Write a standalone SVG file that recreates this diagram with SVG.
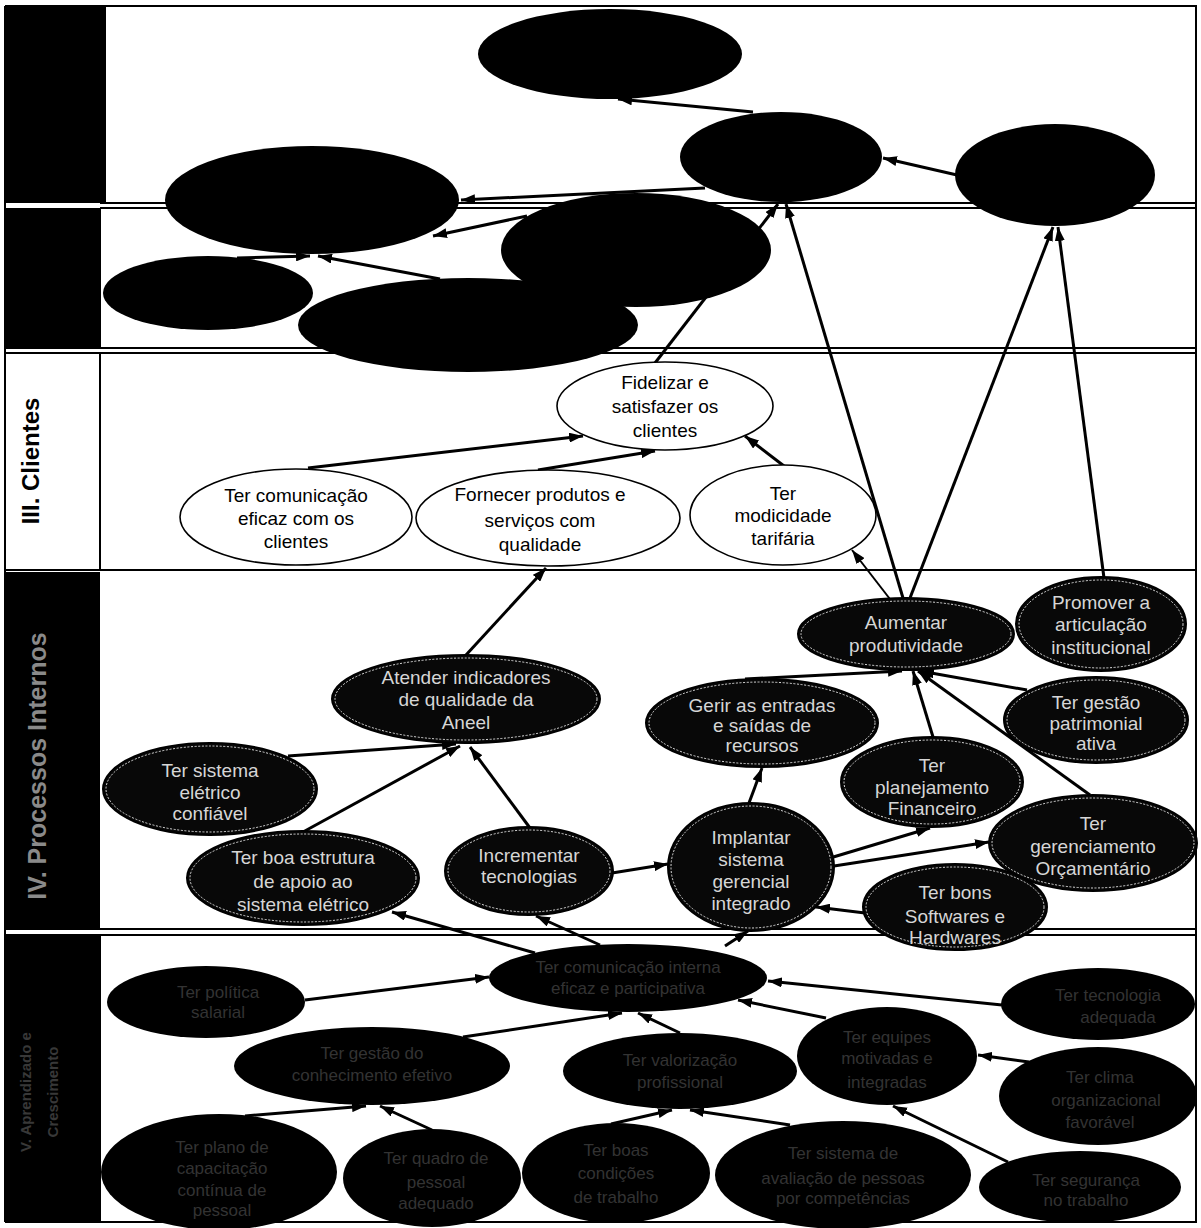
<svg xmlns="http://www.w3.org/2000/svg" width="1201" height="1228" viewBox="0 0 1201 1228">
<style>
  text { font-family: "Liberation Sans", Arial, sans-serif; text-anchor: middle; }
  .frame line { stroke: #000; stroke-width: 2; }
  .conn line { stroke: #000; stroke-width: 3; marker-end: url(#ah); }
  .conn line.thin { stroke-width: 2; }
  .blk { fill: #000; }
  .wht { fill: #fff; stroke: #000; stroke-width: 1.6; }
  .dko { fill: #080808; stroke: #000; stroke-width: 2; }
  .dki { fill: none; stroke: #d8d8d8; stroke-width: 1; stroke-dasharray: 2 1.6; }
  .ct { font-size: 19px; fill: #000; }
  .it { font-size: 19px; fill: #d6d6d6; }
  .ft { font-size: 17px; fill: #333; }
  .lab { font-weight: bold; }
</style>
<defs>
  <marker id="ah" viewBox="0 0 14 10" refX="14" refY="5" markerWidth="14" markerHeight="10" markerUnits="userSpaceOnUse" orient="auto">
    <path d="M0,0 L14,5 L0,10 z" fill="#000"/>
  </marker>
</defs>

<g id="lanes">
  <rect x="5" y="6" width="1191" height="1216" fill="#fff"/>
  <rect x="5" y="7" width="101" height="196" class="blk"/>
  <rect x="5" y="208" width="96" height="141" class="blk"/>
  <rect x="5" y="572" width="95" height="357" class="blk"/>
  <rect x="5" y="936" width="96" height="286" class="blk"/>
  <g class="frame">
    <line x1="5" y1="6" x2="1197" y2="6"/>
    <line x1="5" y1="1222" x2="1197" y2="1222"/>
    <line x1="5" y1="6" x2="5" y2="1222"/>
    <line x1="1196" y1="6" x2="1196" y2="1222"/>
    <line x1="100" y1="203" x2="1196" y2="203"/>
    <line x1="100" y1="208" x2="1196" y2="208"/>
    <line x1="5" y1="348" x2="1196" y2="348"/>
    <line x1="5" y1="353" x2="1196" y2="353"/>
    <line x1="5" y1="570" x2="1196" y2="570"/>
    <line x1="5" y1="929" x2="1196" y2="929"/>
    <line x1="5" y1="935" x2="1196" y2="935"/>
    <line x1="100" y1="353" x2="100" y2="570"/>
  </g>
  <text class="lab" font-size="24" fill="#000" transform="translate(39,461) rotate(-90)">III. Clientes</text>
  <text class="lab" font-size="25" fill="#8a8a8a" transform="translate(46,766) rotate(-90)">IV. Processos Internos</text>
  <text class="lab" font-size="15" fill="#383838" transform="translate(31,1092) rotate(-90)"><tspan x="0" y="0">V. Aprendizado e</tspan><tspan x="0" y="27">Crescimento</tspan></text>
</g>

<g id="connectors" class="conn">
  <line x1="753" y1="112" x2="618" y2="99"/>
  <line x1="957" y1="175" x2="883" y2="158"/>
  <line x1="705" y1="188" x2="461" y2="200"/>
  <line x1="527" y1="216" x2="433" y2="236"/>
  <line x1="440" y1="279" x2="318" y2="256"/>
  <line x1="237" y1="258" x2="310" y2="256"/>
  <line x1="308" y1="468" x2="583" y2="436"/>
  <line x1="538" y1="470" x2="655" y2="451"/>
  <line x1="784" y1="466" x2="745" y2="436"/>
  <line x1="655" y1="363" x2="778" y2="204"/>
  <line x1="903" y1="598" x2="786" y2="204"/>
  <line x1="910" y1="598" x2="1053" y2="227"/>
  <line x1="1104" y1="578" x2="1058" y2="227"/>
  <line class="thin" x1="893" y1="603" x2="852" y2="550"/>
  <line x1="466" y1="655" x2="546" y2="568"/>
  <line x1="288" y1="756" x2="456" y2="744"/>
  <line x1="303" y1="832" x2="460" y2="746"/>
  <line x1="530" y1="828" x2="470" y2="747"/>
  <line x1="612" y1="873" x2="668" y2="864"/>
  <line x1="749" y1="803" x2="762" y2="768"/>
  <line x1="830" y1="858" x2="930" y2="828"/>
  <line x1="834" y1="866" x2="989" y2="842"/>
  <line x1="865" y1="913" x2="816" y2="907"/>
  <line x1="745" y1="679" x2="902" y2="671"/>
  <line x1="933" y1="737" x2="913" y2="671"/>
  <line x1="1027" y1="690" x2="920" y2="671"/>
  <line x1="1090" y1="795" x2="918" y2="671"/>
  <line x1="535" y1="953" x2="392" y2="912"/>
  <line x1="600" y1="945" x2="536" y2="916"/>
  <line x1="725" y1="946" x2="748" y2="931"/>
  <line x1="305" y1="1000" x2="489" y2="977"/>
  <line x1="463" y1="1037" x2="622" y2="1013"/>
  <line x1="680" y1="1033" x2="638" y2="1013"/>
  <line x1="826" y1="1018" x2="738" y2="1000"/>
  <line x1="1002" y1="1005" x2="768" y2="981"/>
  <line x1="1029" y1="1062" x2="978" y2="1055"/>
  <line x1="245" y1="1116" x2="366" y2="1106"/>
  <line x1="432" y1="1130" x2="380" y2="1106"/>
  <line x1="611" y1="1124" x2="672" y2="1110"/>
  <line x1="790" y1="1125" x2="690" y2="1110"/>
  <line x1="1008" y1="1162" x2="893" y2="1106"/>
</g>

<!-- Top perspectives (solid black) -->
<g id="n-top1"><ellipse class="blk" cx="610" cy="54" rx="132" ry="45"/></g>
<g id="n-top2"><ellipse class="blk" cx="781" cy="157" rx="101" ry="45"/></g>
<g id="n-top3"><ellipse class="blk" cx="1055" cy="175" rx="100" ry="51"/></g>
<g id="n-top4"><ellipse class="blk" cx="312" cy="200" rx="147" ry="54"/></g>
<g id="n-top5"><ellipse class="blk" cx="636" cy="250" rx="135" ry="57"/></g>
<g id="n-top6"><ellipse class="blk" cx="208" cy="293" rx="105" ry="37"/></g>
<g id="n-top7"><ellipse class="blk" cx="468" cy="325" rx="170" ry="47"/></g>

<!-- III. Clientes -->
<g id="n-fidelizar"><ellipse class="wht" cx="665" cy="406" rx="108" ry="44"/>
  <text class="ct"><tspan x="665" y="389">Fidelizar e</tspan><tspan x="665" y="413">satisfazer os</tspan><tspan x="665" y="437">clientes</tspan></text></g>
<g id="n-comunicacao"><ellipse class="wht" cx="296" cy="517" rx="116" ry="48"/>
  <text class="ct"><tspan x="296" y="502">Ter comunicação</tspan><tspan x="296" y="525">eficaz com os</tspan><tspan x="296" y="548">clientes</tspan></text></g>
<g id="n-fornecer"><ellipse class="wht" cx="548" cy="518" rx="132" ry="48"/>
  <text class="ct"><tspan x="540" y="501">Fornecer produtos e</tspan><tspan x="540" y="527">serviços com</tspan><tspan x="540" y="551">qualidade</tspan></text></g>
<g id="n-modicidade"><ellipse class="wht" cx="783" cy="515" rx="93" ry="50"/>
  <text class="ct"><tspan x="783" y="500">Ter</tspan><tspan x="783" y="522">modicidade</tspan><tspan x="783" y="545">tarifária</tspan></text></g>

<!-- IV. Processos Internos -->
<g id="n-atender"><ellipse class="dko" cx="466" cy="699" rx="134" ry="44"/><ellipse class="dki" cx="466" cy="699" rx="131" ry="41"/>
  <text class="it"><tspan x="466" y="684">Atender indicadores</tspan><tspan x="466" y="706">de qualidade da</tspan><tspan x="466" y="729">Aneel</tspan></text></g>
<g id="n-sistema"><ellipse class="dko" cx="210" cy="789" rx="107" ry="46"/><ellipse class="dki" cx="210" cy="789" rx="104" ry="43"/>
  <text class="it"><tspan x="210" y="777">Ter sistema</tspan><tspan x="210" y="799">elétrico</tspan><tspan x="210" y="820">confiável</tspan></text></g>
<g id="n-estrutura"><ellipse class="dko" cx="303" cy="878" rx="116" ry="47"/><ellipse class="dki" cx="303" cy="878" rx="113" ry="44"/>
  <text class="it"><tspan x="303" y="864">Ter boa estrutura</tspan><tspan x="303" y="888">de apoio ao</tspan><tspan x="303" y="911">sistema elétrico</tspan></text></g>
<g id="n-tecnologias"><ellipse class="dko" cx="529" cy="871" rx="84" ry="44"/><ellipse class="dki" cx="529" cy="871" rx="81" ry="41"/>
  <text class="it"><tspan x="529" y="862">Incrementar</tspan><tspan x="529" y="883">tecnologias</tspan></text></g>
<g id="n-implantar"><ellipse class="dko" cx="751" cy="867" rx="83" ry="64"/><ellipse class="dki" cx="751" cy="867" rx="80" ry="61"/>
  <text class="it"><tspan x="751" y="844">Implantar</tspan><tspan x="751" y="866">sistema</tspan><tspan x="751" y="888">gerencial</tspan><tspan x="751" y="910">integrado</tspan></text></g>
<g id="n-gerir"><ellipse class="dko" cx="762" cy="723" rx="116" ry="44"/><ellipse class="dki" cx="762" cy="723" rx="113" ry="41"/>
  <text class="it"><tspan x="762" y="712">Gerir as entradas</tspan><tspan x="762" y="732">e saídas de</tspan><tspan x="762" y="752">recursos</tspan></text></g>
<g id="n-produtividade"><ellipse class="dko" cx="906" cy="634" rx="108" ry="36"/><ellipse class="dki" cx="906" cy="634" rx="105" ry="33"/>
  <text class="it"><tspan x="906" y="629">Aumentar</tspan><tspan x="906" y="652">produtividade</tspan></text></g>
<g id="n-articulacao"><ellipse class="dko" cx="1101" cy="624" rx="85" ry="47"/><ellipse class="dki" cx="1101" cy="624" rx="82" ry="44"/>
  <text class="it"><tspan x="1101" y="609">Promover a</tspan><tspan x="1101" y="631">articulação</tspan><tspan x="1101" y="654">institucional</tspan></text></g>
<g id="n-patrimonial"><ellipse class="dko" cx="1096" cy="720" rx="92" ry="43"/><ellipse class="dki" cx="1096" cy="720" rx="89" ry="40"/>
  <text class="it"><tspan x="1096" y="709">Ter gestão</tspan><tspan x="1096" y="730">patrimonial</tspan><tspan x="1096" y="750">ativa</tspan></text></g>
<g id="n-planejamento"><ellipse class="dko" cx="932" cy="782" rx="91" ry="45"/><ellipse class="dki" cx="932" cy="782" rx="88" ry="42"/>
  <text class="it"><tspan x="932" y="772">Ter</tspan><tspan x="932" y="794">planejamento</tspan><tspan x="932" y="815">Financeiro</tspan></text></g>
<g id="n-orcamentario"><ellipse class="dko" cx="1093" cy="843" rx="104" ry="48"/><ellipse class="dki" cx="1093" cy="843" rx="101" ry="45"/>
  <text class="it"><tspan x="1093" y="830">Ter</tspan><tspan x="1093" y="853">gerenciamento</tspan><tspan x="1093" y="875">Orçamentário</tspan></text></g>
<g id="n-softwares"><ellipse class="dko" cx="955" cy="907" rx="92" ry="43"/><ellipse class="dki" cx="955" cy="907" rx="89" ry="40"/>
  <text class="it"><tspan x="955" y="899">Ter bons</tspan><tspan x="955" y="923">Softwares e</tspan><tspan x="955" y="944">Hardwares</tspan></text></g>

<!-- V. Aprendizado e Crescimento -->
<g id="n-v1"><ellipse class="blk" cx="628" cy="978" rx="139" ry="34"/>
  <text class="ft"><tspan x="628" y="973">Ter comunicação interna</tspan><tspan x="628" y="994">eficaz e participativa</tspan></text></g>
<g id="n-v0"><ellipse class="blk" cx="206" cy="1002" rx="99" ry="36"/>
  <text class="ft"><tspan x="218" y="998">Ter política</tspan><tspan x="218" y="1018">salarial</tspan></text></g>
<g id="n-v2"><ellipse class="blk" cx="372" cy="1066" rx="138" ry="39"/>
  <text class="ft"><tspan x="372" y="1059">Ter gestão do</tspan><tspan x="372" y="1081">conhecimento efetivo</tspan></text></g>
<g id="n-v6"><ellipse class="blk" cx="680" cy="1071" rx="117" ry="38"/>
  <text class="ft"><tspan x="680" y="1066">Ter valorização</tspan><tspan x="680" y="1088">profissional</tspan></text></g>
<g id="n-v3"><ellipse class="blk" cx="887" cy="1056" rx="90" ry="49"/>
  <text class="ft"><tspan x="887" y="1043">Ter equipes</tspan><tspan x="887" y="1064">motivadas e</tspan><tspan x="887" y="1088">integradas</tspan></text></g>
<g id="n-v4"><ellipse class="blk" cx="1098" cy="1004" rx="97" ry="36"/>
  <text class="ft"><tspan x="1108" y="1001">Ter tecnologia</tspan><tspan x="1118" y="1023">adequada</tspan></text></g>
<g id="n-v5"><ellipse class="blk" cx="1098" cy="1096" rx="99" ry="49"/>
  <text class="ft"><tspan x="1100" y="1083">Ter clima</tspan><tspan x="1106" y="1106">organizacional</tspan><tspan x="1100" y="1128">favorável</tspan></text></g>
<g id="n-b1"><ellipse class="blk" cx="219" cy="1172" rx="118" ry="58"/>
  <text class="ft"><tspan x="222" y="1153">Ter plano de</tspan><tspan x="222" y="1174">capacitação</tspan><tspan x="222" y="1196">contínua de</tspan><tspan x="222" y="1216">pessoal</tspan></text></g>
<g id="n-b2"><ellipse class="blk" cx="432" cy="1178" rx="89" ry="49"/>
  <text class="ft"><tspan x="436" y="1164">Ter quadro de</tspan><tspan x="436" y="1188">pessoal</tspan><tspan x="436" y="1209">adequado</tspan></text></g>
<g id="n-b3"><ellipse class="blk" cx="616" cy="1173" rx="94" ry="50"/>
  <text class="ft"><tspan x="616" y="1156">Ter boas</tspan><tspan x="616" y="1179">condições</tspan><tspan x="616" y="1203">de trabalho</tspan></text></g>
<g id="n-b4"><ellipse class="blk" cx="843" cy="1175" rx="128" ry="54"/>
  <text class="ft"><tspan x="843" y="1159">Ter sistema de</tspan><tspan x="843" y="1184">avaliação de pessoas</tspan><tspan x="843" y="1204">por competências</tspan></text></g>
<g id="n-b5"><ellipse class="blk" cx="1080" cy="1187" rx="101" ry="36"/>
  <text class="ft"><tspan x="1086" y="1186">Ter segurança</tspan><tspan x="1086" y="1206">no trabalho</tspan></text></g>
</svg>
